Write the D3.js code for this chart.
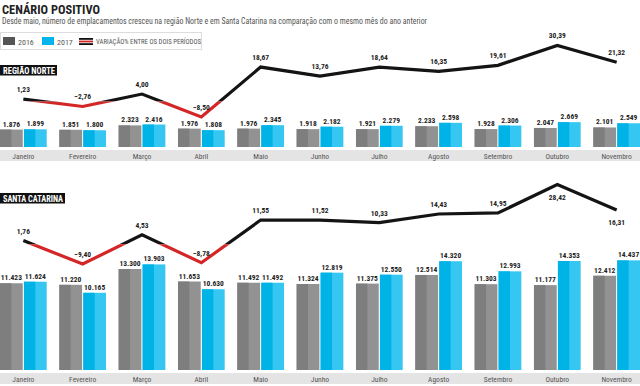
<!DOCTYPE html>
<html>
<head>
<meta charset="utf-8">
<script src="https://cdn.jsdelivr.net/npm/d3@7"></script>
<style>
  html, body { margin: 0; padding: 0; background: #fff; }
  svg { display: block; }
  text { font-family: "Roboto Condensed", "DejaVu Sans Condensed", "Liberation Sans Narrow", Roboto, sans-serif; }
</style>
</head>
<body>
<div id="chart"></div>
<script>
// data
const months = ["Janeiro", "Fevereiro", "Março", "Abril", "Maio", "Junho", "Julho", "Agosto", "Setembro", "Outubro", "Novembro"]
const years = ["2016", "2017"]

const norte2016 = [1876, 1851, 2323, 1976, 1976, 1918, 1921, 2233, 1928, 2047, 2101]
const norte2017 = [1899, 1800, 2416, 1808, 2345, 2182, 2279, 2598, 2306, 2669, 2549]
const norteVar  = [1.23, -2.76, 4.00, -8.50, 18.67, 13.76, 18.64, 16.35, 19.61, 30.39, 21.32]

const sc2016 = [11423, 11220, 13300, 11653, 11492, 11324, 11375, 12514, 11303, 11177, 12412]
const sc2017 = [11624, 10165, 13903, 10630, 11492, 12819, 12550, 14320, 12993, 14353, 14437]
const scVar  = [1.76, -9.40, 4.53, -8.78, 11.55, 11.52, 10.33, 14.43, 14.95, 28.42, 16.31]
const scLabelsBelow = ["Outubro", "Novembro"]

const width = 640, height = 386

const br = d3.formatLocale({ decimal: ",", thousands: ".", grouping: [3], currency: ["R$", ""] })
const fmtInt = br.format(",d")
const fmtVar = br.format(".2f")

const svg = d3.select("#chart").append("svg")
    .attr("width", width)
    .attr("height", height)

// header
svg.append("text")
    .attr("x", 2).attr("y", 14)
    .attr("font-size", 13).attr("font-weight", 700)
    .attr("fill", "#222")
    .attr("textLength", 98).attr("lengthAdjust", "spacingAndGlyphs")
    .text("CENÁRIO POSITIVO")
svg.append("text")
    .attr("x", 2).attr("y", 24)
    .attr("font-size", 8.5)
    .attr("fill", "#555")
    .attr("textLength", 425).attr("lengthAdjust", "spacingAndGlyphs")
    .text("Desde maio, número de emplacamentos cresceu na região Norte e em Santa Catarina na comparação com o mesmo mês do ano anterior")

// legend
const legend = svg.append("g")
legend.append("rect")
    .attr("x", 0.5).attr("y", 32.5).attr("width", 201).attr("height", 17)
    .attr("fill", "#fff").attr("stroke", "#ddd")
legend.append("rect").attr("x", 3).attr("y", 37).attr("width", 12).attr("height", 8).attr("fill", "#555")
legend.append("text").attr("x", 18).attr("y", 44.5).attr("font-size", 8).attr("fill", "#555").text(years[0])
legend.append("rect").attr("x", 42).attr("y", 37).attr("width", 12).attr("height", 8).attr("fill", "#00b5ee")
legend.append("text").attr("x", 57).attr("y", 44.5).attr("font-size", 8).attr("fill", "#555").text(years[1])
legend.append("rect").attr("x", 79).attr("y", 38).attr("width", 14).attr("height", 1.8).attr("fill", "#111")
legend.append("rect").attr("x", 79).attr("y", 40.6).attr("width", 14).attr("height", 1.8).attr("fill", "#d42626")
legend.append("rect").attr("x", 79).attr("y", 43.2).attr("width", 14).attr("height", 1.8).attr("fill", "#111")
legend.append("text").attr("x", 96).attr("y", 44).attr("font-size", 6.5).attr("fill", "#555")
    .attr("textLength", 105).attr("lengthAdjust", "spacingAndGlyphs")
    .text("VARIAÇÃO% ENTRE OS DOIS PERÍODOS")

// shared x scales
const x = d3.scaleBand()
    .domain(months)
    .range([0, width])
    .paddingInner(0.213)
    .paddingOuter(0)
const xSub = d3.scaleBand()
    .domain(years)
    .range([0, x.bandwidth()])
    .paddingInner(0.05)

const barColors = {
  "2016": ["#7e7e7e", "#929292"],
  "2017": ["#00b3e6", "#35c6f1"]
}

let clipId = 0

const drawPanel = (opts) => {
  const g = svg.append("g")

  // title tag
  const tag = g.append("g")
  const tagText = tag.append("text")
      .attr("x", 3).attr("y", opts.tagY + 7.5)
      .attr("font-size", 8.5).attr("font-weight", 700)
      .attr("fill", "#fff")
      .attr("textLength", opts.tagW - 5).attr("lengthAdjust", "spacingAndGlyphs")
      .text(opts.title)
  tag.insert("rect", "text")
      .attr("x", 0).attr("y", opts.tagY - 1)
      .attr("width", opts.tagW).attr("height", 10.5)
      .attr("fill", "#111")

  // bar scale
  const yBar = d3.scaleLinear()
      .domain([0, opts.barMax])
      .range([opts.baseY, opts.baseY - opts.barPx])

  const rows = months.map((m, i) => ({ month: m, values: [
    { year: years[0], value: opts.a[i] },
    { year: years[1], value: opts.b[i] }
  ]}))

  // month band
  g.append("rect")
      .attr("x", 0).attr("y", opts.baseY + 3)
      .attr("width", width).attr("height", 11)
      .attr("fill", "#e4e4e4")
  g.selectAll(".month")
      .data(months)
    .enter().append("text")
      .attr("class", "month")
      .attr("x", d => x(d) + x.bandwidth() / 2)
      .attr("y", opts.baseY + 11.5)
      .attr("text-anchor", "middle")
      .attr("font-size", 7.5)
      .attr("fill", "#555")
      .text(d => d)

  const group = g.selectAll("g.grp")
      .data(rows)
    .enter().append("g")
      .attr("class", "grp")
      .attr("transform", d => `translate(${x(d.month)},0)`)

  const bar = group.selectAll("g.bar")
      .data(d => d.values)
    .enter().append("g")
      .attr("class", "bar")
  bar.append("rect")
      .attr("x", d => xSub(d.year))
      .attr("y", d => yBar(d.value))
      .attr("width", xSub.bandwidth())
      .attr("height", d => yBar(0) - yBar(d.value))
      .attr("fill", d => barColors[d.year][1])
  bar.append("rect")
      .attr("x", d => xSub(d.year))
      .attr("y", d => yBar(d.value))
      .attr("width", xSub.bandwidth() / 2)
      .attr("height", d => yBar(0) - yBar(d.value))
      .attr("fill", d => barColors[d.year][0])
  bar.append("text")
      .attr("x", d => xSub(d.year) + xSub.bandwidth() / 2)
      .attr("y", d => yBar(d.value) - 3)
      .attr("text-anchor", "middle")
      .attr("font-size", 7.5).attr("font-weight", 700)
      .attr("fill", "#222")
      .text(d => fmtInt(d.value))

  // variation line
  const yVar = d3.scaleLinear()
      .domain([-10, 35])
      .range([opts.var0 + 10 * opts.varPx, opts.var0 - 35 * opts.varPx])

  const line = d3.line()
      .x((d, i) => x(months[i]) + x.bandwidth() / 2)
      .y(d => yVar(d))

  const idA = "clipA" + (clipId), idB = "clipB" + (clipId++)
  const defs = g.append("defs")
  defs.append("clipPath").attr("id", idA).append("rect")
      .attr("x", 0).attr("y", 0).attr("width", width).attr("height", yVar(0))
  defs.append("clipPath").attr("id", idB).append("rect")
      .attr("x", 0).attr("y", yVar(0)).attr("width", width).attr("height", height - yVar(0))

  g.append("path")
      .attr("d", line(opts.v))
      .attr("fill", "none").attr("stroke", "#141414").attr("stroke-width", 3.2)
      .attr("stroke-linejoin", "miter")
      .attr("clip-path", `url(#${idA})`)
  g.append("path")
      .attr("d", line(opts.v))
      .attr("fill", "none").attr("stroke", "#d42626").attr("stroke-width", 3.2)
      .attr("stroke-linejoin", "miter")
      .attr("clip-path", `url(#${idB})`)

  g.selectAll(".varlabel")
      .data(opts.v)
    .enter().append("text")
      .attr("class", "varlabel")
      .attr("x", (d, i) => line.x()(d, i))
      .attr("y", (d, i) => opts.below.includes(months[i]) ? yVar(d) + 15 : yVar(d) - 7)
      .attr("text-anchor", "middle")
      .attr("font-size", 7.5).attr("font-weight", 700)
      .attr("fill", "#222")
      .text(d => fmtVar(d))
}

drawPanel({
  title: "REGIÃO NORTE", tagY: 66, tagW: 57,
  a: norte2016, b: norte2017, v: norteVar, below: [],
  baseY: 147, barMax: 3000, barPx: 27.9,
  var0: 101.4, varPx: 1.84
})

drawPanel({
  title: "SANTA CATARINA", tagY: 194, tagW: 65,
  a: sc2016, b: sc2017, v: scVar, below: scLabelsBelow,
  baseY: 370, barMax: 15000, barPx: 113.9,
  var0: 244.3, varPx: 2.1
})
</script>
</body>
</html>
